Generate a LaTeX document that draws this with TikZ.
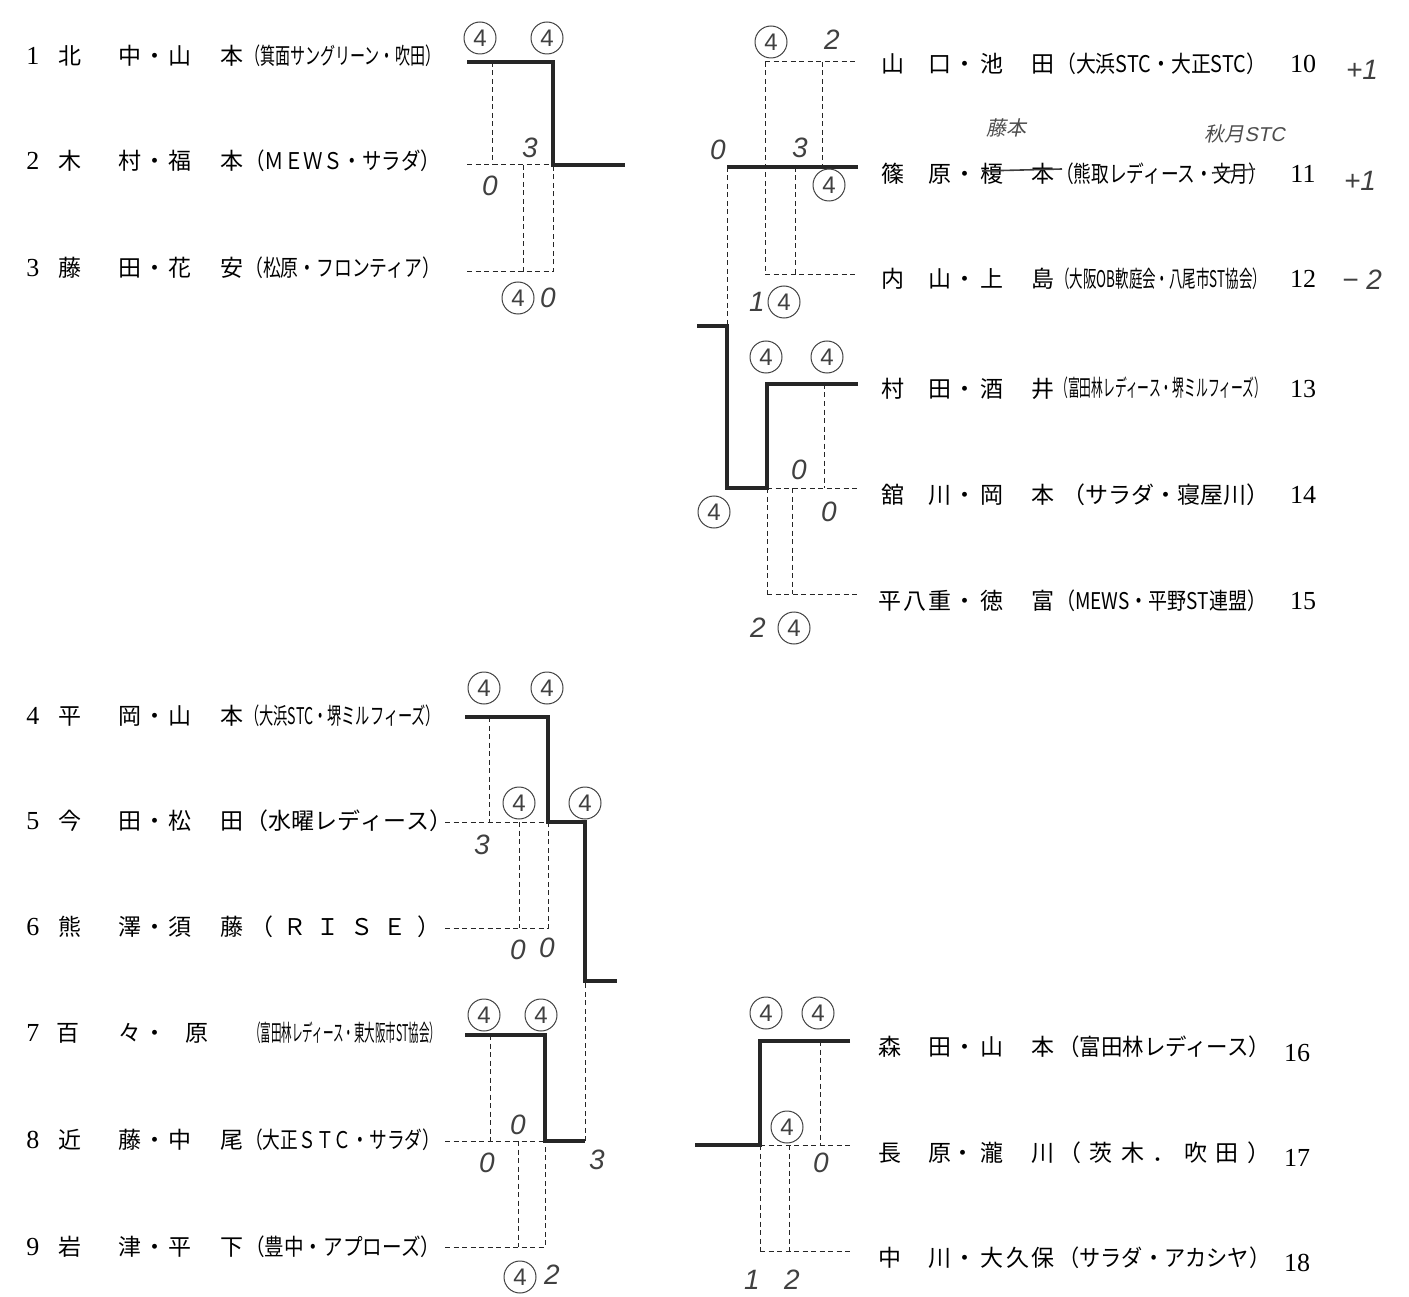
\documentclass[tikz,border=0pt]{standalone}
\usepackage{fontspec}
\setmainfont{Liberation Serif}
\newfontfamily\jp{Noto Sans CJK JP}
\newfontfamily\hw{Liberation Sans}
\newcommand\sqz[2]{\resizebox{#1}{\height}{#2}}
\newcommand\spr[2]{\makebox[#1][s]{#2}}
\tikzset{
 nm/.style={anchor=base, inner sep=0pt, font=\jp\fontsize{23}{23}\selectfont},
 club/.style={anchor=base west, inner sep=0pt, font=\jp\fontsize{23}{23}\selectfont},
 rn/.style={anchor=base, inner sep=0pt, font=\fontsize{26}{26}\selectfont},
 win/.style={line width=3.5pt, black!85, line join=miter},
 lose/.style={dash pattern=on 5pt off 3.5pt, line width=1pt, black!85},
 sc/.style={inner sep=0pt, font=\hw\itshape\fontsize{28}{28}\selectfont, black!75},
 cs/.style={circle, draw=black!70, line width=1pt, minimum size=32pt, inner sep=0pt, font=\hw\fontsize{24}{24}\selectfont, black!75},
 hwt/.style={inner sep=0pt, font=\jp\fontsize{20}{20}\selectfont, black!70, xslant=0.2},
 strike/.style={line width=1.6pt, black!75}
}
% left row: id, text y, number, four characters
\newcommand\rowL[7]{%
 \node[rn] (n#1) at (33,#2+9) {#3};
 \node[nm] (a#1) at (70,#2+9) {#4};
 \node[nm] (b#1) at (130,#2+9) {#5};
 \node[nm] (d#1) at (155,#2+9) {・};
 \node[nm] (c#1) at (180,#2+9) {#6};
 \node[nm] (e#1) at (232,#2+9) {#7};
}
\newcommand\rowR[7]{%
 \node[nm] (a#1) at (893,#2+9) {#4};
 \node[nm] (b#1) at (940,#2+9) {#5};
 \node[nm] (d#1) at (965,#2+9) {・};
 \node[nm] (c#1) at (992,#2+9) {#6};
 \node[nm] (e#1) at (1043,#2+9) {#7};
 \node[rn] (n#1) at (1303,#2+9) {#3};
}
\begin{document}
\begin{tikzpicture}[x=1pt,y=-1pt]
\useasboundingbox (0,0) rectangle (1409,1297);

% ---------------- texts, left ----------------
\rowL{1}{56}{1}{北}{中}{山}{本}
\node[club] (k1) at (245,65) {\sqz{195pt}{（箕面サングリーン・吹田）}};
\rowL{2}{161}{2}{木}{村}{福}{本}
\node[club] (k2) at (245,170) {\sqz{195pt}{（ＭＥＷＳ・サラダ）}};
\rowL{3}{268}{3}{藤}{田}{花}{安}
\node[club] (k3) at (245,277) {\sqz{195pt}{（松原・フロンティア）}};

\rowL{4}{715}{4}{平}{岡}{山}{本}
\node[club] (k4) at (245,724) {\sqz{195pt}{（大浜STC・堺ミルフィーズ）}};
\rowL{5}{820}{5}{今}{田}{松}{田}
\node[club] (k5) at (245,829) {\spr{195pt}{（\hfill 水\hfill 曜\hfill レ\hfill デ\hfill ィ\hfill ー\hfill ス\hfill ）}};
\rowL{6}{926}{6}{熊}{澤}{須}{藤}
\node[club] (k6) at (250,935) {\spr{190pt}{（\hfill Ｒ\hfill Ｉ\hfill Ｓ\hfill Ｅ\hfill ）}};
\node[rn] (n7) at (33,1041) {7};
\node[nm] (a7) at (68,1041) {百};
\node[nm] (b7) at (130,1041) {々};
\node[nm] (d7) at (155,1041) {・};
\node[nm] (e7) at (197,1041) {原};
\node[club] (k7) at (250,1041) {\sqz{190pt}{（富田林レディース・東大阪市ST協会）}};
\rowL{8}{1139}{8}{近}{藤}{中}{尾}
\node[club] (k8) at (245,1148) {\sqz{195pt}{（大正ＳＴＣ・サラダ）}};
\rowL{9}{1246}{9}{岩}{津}{平}{下}
\node[club] (k9) at (245,1255) {\sqz{195pt}{（豊中・アプローズ）}};

% ---------------- texts, right ----------------
\rowR{10}{64}{10}{山}{口}{池}{田}
\node[club] (k10) at (1056,73) {\sqz{210pt}{（大浜STC・大正STC）}};
\rowR{11}{174}{11}{篠}{原}{榎}{本}
\node[club] (k11) at (1056,183) {\sqz{210pt}{（熊取レディース・文月）}};
\rowR{12}{279}{12}{内}{山}{上}{島}
\node[club] (k12) at (1056,288) {\sqz{210pt}{（大阪OB軟庭会・八尾市ST協会）}};
\rowR{13}{388}{13}{村}{田}{酒}{井}
\node[club] (k13) at (1056,397) {\sqz{210pt}{（富田林レディース・堺ミルフィーズ）}};
\rowR{14}{494}{14}{舘}{川}{岡}{本}
\node[club] (k14) at (1062,503) {\spr{204pt}{（\hfill サ\hfill ラ\hfill ダ\hfill ・\hfill 寝\hfill 屋\hfill 川\hfill ）}};
\node[nm] (a15) at (890,609) {平};
\node[nm] (p15) at (915,609) {八};
\node[nm] (b15) at (940,609) {重};
\node[nm] (d15) at (965,609) {・};
\node[nm] (c15) at (992,609) {徳};
\node[nm] (e15) at (1043,609) {富};
\node[club] (k15) at (1056,609) {\sqz{210pt}{（MEWS・平野ST連盟）}};
\node[rn] (n15) at (1303,609) {15};

\node[nm] (a16) at (890,1055) {森};
\node[nm] (b16) at (940,1055) {田};
\node[nm] (d16) at (965,1055) {・};
\node[nm] (c16) at (992,1055) {山};
\node[nm] (e16) at (1043,1055) {本};
\node[club] (k16) at (1058,1055) {\sqz{212pt}{（富田林レディース）}};
\node[rn] (n16) at (1297,1061) {16};
\node[nm] (a17) at (890,1161) {長};
\node[nm] (b17) at (940,1161) {原};
\node[nm] (d17) at (963,1161) {・};
\node[nm] (c17) at (992,1161) {瀧};
\node[nm] (e17) at (1043,1161) {川};
\node[club] (k17) at (1058,1161) {\spr{212pt}{（\hfill 茨\hfill 木\hfill ．\hfill 吹\hfill 田\hfill ）}};
\node[rn] (n17) at (1297,1166) {17};
\node[nm] (a18) at (890,1266) {中};
\node[nm] (b18) at (940,1266) {川};
\node[nm] (d18) at (965,1266) {・};
\node[nm] (c18) at (992,1266) {大};
\node[nm] (p18) at (1018,1266) {久};
\node[nm] (e18) at (1043,1266) {保};
\node[club] (k18) at (1058,1266) {\sqz{212pt}{（サラダ・アカシヤ）}};
\node[rn] (n18) at (1297,1271) {18};

% handwritten corrections
\coordinate (st1) at (982,171);
\coordinate (st2) at (1062,169);
\draw[strike] (st1) -- (st2);
\coordinate (st3) at (1212,173);
\coordinate (st4) at (1255,169);
\draw[strike] (st3) -- (st4);
\node[hwt] (h1) at (1008,128) {藤本};
\node[hwt, anchor=west] (h2) at (1206,134) {秋月\hw STC};
\node[sc] (p10) at (1362,70) {+1};
\node[sc] (p11) at (1360,181) {+1};
\node[sc] (p12) at (1362,280) {− 2};

% ---------------- bracket, block 1-3 ----------------
\coordinate (y1) at (0,62); \coordinate (y2) at (0,165); \coordinate (y3) at (0,272);
\coordinate (xa) at (467,0); \coordinate (xb) at (492,0); \coordinate (xc) at (523,0);
\coordinate (xd) at (553,0); \coordinate (xe) at (625,0);
\draw[lose] (xa|-y2) -- (xd|-y2);
\draw[lose] (xa|-y3) -- (xd|-y3) -- (xd|-y2);
\draw[lose] (xb|-y1) -- (xb|-y2);
\draw[lose] (xc|-y2) -- (xc|-y3);
\draw[win] (xa|-y1) -- (xd|-y1) -- (xd|-y2) -- (xe|-y2);

% ---------------- bracket, block 4-9 ----------------
\coordinate (y4) at (0,717); \coordinate (y5) at (0,822); \coordinate (y6) at (0,928);
\coordinate (ym) at (0,981);
\coordinate (y7) at (0,1035); \coordinate (y8) at (0,1141); \coordinate (y9) at (0,1247);
\coordinate (xf) at (445,0); \coordinate (xg) at (465,0); \coordinate (xh) at (489,0);
\coordinate (xi) at (519,0); \coordinate (xj) at (548,0); \coordinate (xk) at (585,0);
\coordinate (xl) at (617,0); \coordinate (xm) at (490,0); \coordinate (xn) at (518,0);
\coordinate (xo) at (545,0);
\draw[lose] (xf|-y5) -- (xj|-y5);
\draw[lose] (xf|-y6) -- (xj|-y6) -- (xj|-y5);
\draw[lose] (xh|-y4) -- (xh|-y5);
\draw[lose] (xi|-y5) -- (xi|-y6);
\draw[win] (xg|-y4) -- (xj|-y4) -- (xj|-y5) -- (xk|-y5) -- (xk|-ym) -- (xl|-ym);
\draw[lose] (xk|-y8) -- (xk|-ym);
\draw[lose] (xf|-y8) -- (xo|-y8);
\draw[lose] (xf|-y9) -- (xo|-y9) -- (xo|-y8);
\draw[lose] (xm|-y7) -- (xm|-y8);
\draw[lose] (xn|-y8) -- (xn|-y9);
\draw[win] (xg|-y7) -- (xo|-y7) -- (xo|-y8) -- (xk|-y8);

% ---------------- bracket, block 10-15 ----------------
\coordinate (y10) at (0,62); \coordinate (y11) at (0,167); \coordinate (y12) at (0,275);
\coordinate (yc) at (0,326);
\coordinate (y13) at (0,384); \coordinate (y14) at (0,488); \coordinate (y15) at (0,594);
\coordinate (XA) at (697,0); \coordinate (XB) at (727,0); \coordinate (XC) at (765,0);
\coordinate (XD) at (795,0); \coordinate (XE) at (822,0); \coordinate (XF) at (858,0);
\coordinate (XG) at (767,0); \coordinate (XH) at (792,0); \coordinate (XI) at (824,0);
\draw[lose] (XC|-y10) -- (XF|-y10);
\draw[lose] (XC|-y12) -- (XF|-y12);
\draw[lose] (XC|-y10) -- (XC|-y12);
\draw[lose] (XE|-y10) -- (XE|-y11);
\draw[lose] (XD|-y11) -- (XD|-y12);
\draw[lose] (XB|-y11) -- (XB|-yc);
\draw[win] (XF|-y11) -- (XB|-y11);
\draw[lose] (XG|-y14) -- (XF|-y14);
\draw[lose] (XG|-y15) -- (XF|-y15);
\draw[lose] (XG|-y14) -- (XG|-y15);
\draw[lose] (XI|-y13) -- (XI|-y14);
\draw[lose] (XH|-y14) -- (XH|-y15);
\draw[win] (XF|-y13) -- (XG|-y13) -- (XG|-y14) -- (XB|-y14) -- (XB|-yc) -- (XA|-yc);

% ---------------- bracket, block 16-18 ----------------
\coordinate (y16) at (0,1041); \coordinate (y17) at (0,1145); \coordinate (y18) at (0,1251);
\coordinate (XJ) at (695,0); \coordinate (XK) at (760,0); \coordinate (XL) at (789,0);
\coordinate (XM) at (820,0); \coordinate (XN) at (850,0);
\draw[lose] (XK|-y17) -- (XN|-y17);
\draw[lose] (XK|-y18) -- (XN|-y18);
\draw[lose] (XK|-y17) -- (XK|-y18);
\draw[lose] (XM|-y16) -- (XM|-y17);
\draw[lose] (XL|-y17) -- (XL|-y18);
\draw[win] (XN|-y16) -- (XK|-y16) -- (XK|-y17) -- (XJ|-y17);

% ---------------- handwritten scores ----------------
\node[cs] (s1) at (480,38) {4};
\node[cs] (s2) at (547,38) {4};
\node[sc] (s3) at (530,148) {3};
\node[sc] (s4) at (490,186) {0};
\node[cs] (s5) at (518,298) {4};
\node[sc] (s6) at (548,298) {0};

\node[cs] (s7) at (484,688) {4};
\node[cs] (s8) at (547,688) {4};
\node[cs] (s9) at (519,803) {4};
\node[cs] (s10) at (585,803) {4};
\node[sc] (s11) at (482,845) {3};
\node[sc] (s12) at (518,950) {0};
\node[sc] (s13) at (547,948) {0};
\node[cs] (s14) at (484,1015) {4};
\node[cs] (s15) at (541,1015) {4};
\node[sc] (s16) at (518,1125) {0};
\node[sc] (s17) at (487,1163) {0};
\node[sc] (s18) at (597,1160) {3};
\node[cs] (s19) at (520,1277) {4};
\node[sc] (s20) at (552,1275) {2};

\node[cs] (s21) at (771,42) {4};
\node[sc] (s22) at (832,40) {2};
\node[sc] (s23) at (718,150) {0};
\node[sc] (s24) at (800,148) {3};
\node[cs] (s25) at (829,185) {4};
\node[sc] (s26) at (757,302) {1};
\node[cs] (s27) at (784,302) {4};
\node[cs] (s28) at (766,357) {4};
\node[cs] (s29) at (827,357) {4};
\node[sc] (s30) at (799,470) {0};
\node[sc] (s31) at (829,512) {0};
\node[cs] (s32) at (714,512) {4};
\node[sc] (s33) at (758,628) {2};
\node[cs] (s34) at (794,628) {4};

\node[cs] (s35) at (766,1013) {4};
\node[cs] (s36) at (818,1013) {4};
\node[cs] (s37) at (787,1127) {4};
\node[sc] (s38) at (821,1163) {0};
\node[sc] (s39) at (752,1280) {1};
\node[sc] (s40) at (792,1280) {2};
\end{tikzpicture}
\end{document}
